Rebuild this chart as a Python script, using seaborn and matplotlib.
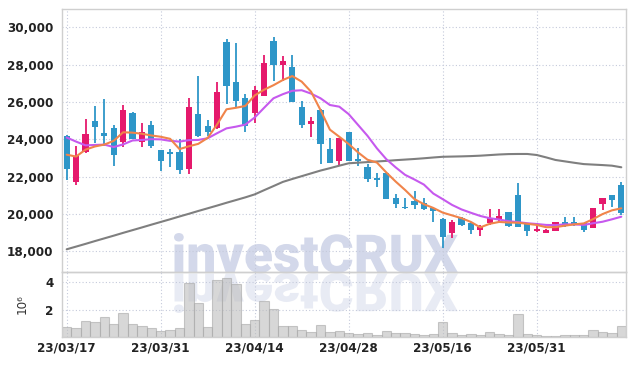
import numpy as np
import pandas as pd
import matplotlib
matplotlib.use("Agg")
import matplotlib.pyplot as plt
import seaborn as sns
from matplotlib.textpath import TextPath
from matplotlib.patches import PathPatch
from matplotlib.font_manager import FontProperties
from matplotlib.transforms import Affine2D, IdentityTransform

# ---------------- data ----------------
opens = [24180, 21740, 23300, 24980, 24320, 24620, 23840, 25420, 23850, 24760,
         23430, 23300, 23330, 22430, 25380, 24710, 24600, 29210, 27070, 26230,
         25390, 26340, 29270, 28000, 27890, 25730, 24840, 25570, 23480, 22860,
         24390, 22950, 22540, 21920, 22190, 20860, 20400, 20710, 20580, 20350,
         19740, 18970, 19790, 19540, 19150, 19510, 19720, 20110, 21020, 19510,
         19100, 19010, 19110, 19580, 19580, 19510, 19280, 20530, 21020, 21560]
highs = [24250, 23660, 25080, 25790, 26150, 24760, 25840, 25440, 24880, 24960,
         23450, 23500, 24030, 26240, 27370, 25020, 27060, 29370, 29150, 26410,
         26860, 28520, 29480, 28460, 28520, 26040, 25190, 25600, 24060, 24100,
         24420, 23550, 22690, 22190, 22200, 21080, 20850, 21230, 20870, 20380,
         19790, 19690, 19870, 19600, 19420, 20260, 20260, 20130, 21650, 19530,
         19500, 19200, 19580, 19870, 19870, 19540, 20330, 20880, 21040, 21740]
lows = [21830, 21580, 23260, 23800, 23650, 22550, 23580, 24000, 23610, 23560,
        22300, 22520, 22140, 22140, 24150, 24180, 24560, 25880, 25660, 24380,
        24880, 26300, 27150, 27150, 25990, 24630, 24120, 22670, 22720, 22580,
        22830, 22580, 21740, 21440, 20790, 20330, 20260, 20260, 20230, 19580,
        18170, 18710, 19360, 18920, 18830, 19420, 19600, 19300, 19290, 18830,
        19060, 18990, 19090, 19330, 19380, 19030, 19270, 20220, 20370, 19950]
closes = [22420, 23110, 24280, 24670, 24200, 23180, 25570, 24010, 24400, 23660,
          22850, 23240, 22380, 25720, 24190, 24410, 26550, 26880, 26070, 24740,
          26640, 28090, 27990, 28200, 26020, 24770, 25000, 23750, 22740, 24090,
          22860, 22850, 21870, 21800, 20810, 20560, 20330, 20490, 20290, 20160,
          18790, 19600, 19390, 19150, 19300, 19780, 19900, 19370, 19300, 19070,
          19200, 19150, 19560, 19450, 19460, 19150, 20310, 20850, 20750, 20080]
volume_millions = [0.76, 0.67, 1.18, 1.11, 1.50, 0.96, 1.78, 0.96, 0.84, 0.67,
                   0.44, 0.52, 0.67, 3.93, 2.52, 0.76, 4.17, 4.30, 3.87, 0.96,
                   1.21, 2.61, 2.07, 0.84, 0.84, 0.52, 0.34, 0.89, 0.39, 0.47,
                   0.30, 0.22, 0.27, 0.17, 0.44, 0.27, 0.30, 0.22, 0.15, 0.22,
                   1.13, 0.30, 0.17, 0.22, 0.15, 0.37, 0.22, 0.15, 1.65, 0.22,
                   0.15, 0.07, 0.07, 0.15, 0.15, 0.15, 0.52, 0.39, 0.30, 0.84]
ma_short = [23180, 23080, 23450, 23620, 23720, 23920, 24380, 24360, 24300, 24210,
            24140, 24030, 23480, 23630, 23760, 24080, 24800, 25610, 25690, 25790,
            26350, 26660, 26900, 27180, 27390, 27090, 26550, 25570, 24520, 24140,
            23750, 23300, 22910, 22760, 22230, 21740, 21290, 20800, 20530, 20330,
            20080, 19930, 19780, 19580, 19290, 19480, 19580, 19550, 19540, 19480,
            19420, 19300, 19300, 19380, 19450, 19500, 19730, 20000, 20200, 20310]
ma_mid = [24100, 23880, 23680, 23700, 23720, 23590, 23730, 23940, 23970, 24010,
          24000, 23920, 23880, 23960, 23970, 24060, 24330, 24590, 24680, 24790,
          25170, 25690, 26200, 26420, 26600, 26630, 26450, 26200, 25840, 25750,
          25350, 24770, 24190, 23520, 22940, 22500, 22100, 21850, 21580, 21100,
          20800, 20490, 20250, 20070, 19900, 19780, 19710, 19620, 19570, 19510,
          19470, 19420, 19410, 19450, 19450, 19420, 19510, 19590, 19720, 19860]
ma_long = [18116, 18260, 18405, 18555, 18700, 18845, 18995, 19140, 19285, 19433,
           19578, 19722, 19872, 20017, 20167, 20311, 20456, 20606, 20750, 20895,
           21055, 21280, 21500, 21724, 21880, 22030, 22180, 22330, 22458, 22592,
           22720, 22752, 22784, 22816, 22848, 22886, 22918, 22950, 22988, 23030,
           23068, 23079, 23090, 23105, 23127, 23159, 23191, 23212, 23218, 23218,
           23164, 23036, 22897, 22822, 22747, 22677, 22650, 22624, 22592, 22506]
date_labels = ['23/03/17', '23/03/31', '23/04/14', '23/04/28', '23/05/16', '23/05/31']
label_index = [0, 10, 20, 30, 40, 50]
price_ticks = [18000, 20000, 22000, 24000, 26000, 28000, 30000]
volume_ticks = [2, 4]

# ---------------- style ----------------
sns.set_theme(style="white")
plt.rcParams['font.family'] = ['DejaVu Sans']
plt.rcParams['font.stretch'] = 'condensed'

UP = '#E5196C'
DOWN = '#2E96C8'
GRID = '#c5cadb'
SPINE = '#cfcfcf'
TICKFONT = dict(family='DejaVu Sans', stretch='condensed', weight='bold', size=9.5)

df = pd.DataFrame({'i': np.arange(len(closes)), 'o': opens, 'h': highs, 'l': lows,
                   'c': closes, 'v': volume_millions,
                   'ma5': ma_short, 'ma20': ma_mid, 'ma120': ma_long})

fig = plt.figure(figsize=(6.35, 3.66), dpi=100)
fig.patch.set_facecolor('white')
ax = fig.add_axes([62/635, 1-272/366, (626-62)/635, (272-9.3)/366])
axv = fig.add_axes([62/635, 1-337/366, (626-62)/635, (337-272)/366], sharex=ax)
for a in (ax, axv):
    a.set_facecolor('none')
    for s in a.spines.values():
        s.set_color(SPINE)
        s.set_linewidth(1.0)
    a.grid(True, color=GRID, linestyle=(0, (1, 2)), linewidth=0.8)
    a.set_axisbelow(True)
    a.tick_params(length=0, labelcolor='#222222', pad=6)

# watermark (behind axes)
fp = FontProperties(family='Roboto', weight='heavy')
tp = TextPath((0, 0), 'investCRUX', size=100, prop=fp)
ext = tp.get_extents()
x0, x1, y_base = 174, 458, 272.5
sx = (x1 - x0) / ext.width
sy = 40 / ext.height
H = 366
tr = Affine2D().translate(-ext.x0, 0).scale(sx, sy).translate(x0, H - y_base)
wm = PathPatch(tr.transform_path(tp), facecolor='#d3d8ea', edgecolor='none',
               transform=IdentityTransform(), zorder=-5)
fig.add_artist(wm)
tr2 = Affine2D().translate(-ext.x0, 0).scale(sx, -sy).translate(x0, H - y_base - 1)
wm2 = PathPatch(tr2.transform_path(tp), facecolor='#d3d8ea', edgecolor='none', alpha=0.5,
                transform=IdentityTransform(), zorder=-5)
fig.add_artist(wm2)

# candles
up = df['c'] >= df['o']
colors = np.where(up, UP, DOWN)
ax.vlines(df['i'], df['l'], df['h'], colors=colors, linewidth=1.3, zorder=3)
ax.bar(df['i'], (df['c'] - df['o']).abs().clip(lower=40), bottom=df[['o', 'c']].min(axis=1),
       width=0.66, color=colors, edgecolor='none', zorder=4)

sns.lineplot(data=df, x='i', y='ma120', ax=ax, color='#7f7f7f', linewidth=1.5, zorder=5)
sns.lineplot(data=df, x='i', y='ma20', ax=ax, color='#c659ee', linewidth=1.5, zorder=5)
sns.lineplot(data=df, x='i', y='ma5', ax=ax, color='#f0844a', linewidth=1.5, zorder=6)

ax.set_ylim(16900, 30963)
ax.set_yticks(price_ticks)
ax.set_yticklabels([f'{t:,}' for t in price_ticks], fontdict=TICKFONT)
ax.set_xlabel('')
ax.set_ylabel('')
plt.setp(ax.get_xticklabels(), visible=False)

# volume
sns.barplot(data=df, x='i', y='v', ax=axv, native_scale=True, width=1.0,
            color='#bdbdbd', saturation=1, edgecolor='#a8a8a8', linewidth=0.8)
for p in axv.patches:
    p.set_alpha(0.6)
axv.set_ylim(0, 4.76)
axv.set_yticks(volume_ticks)
axv.set_yticklabels([str(t) for t in volume_ticks], fontdict=TICKFONT)
axv.set_xlim(-0.5, 59.5)
axv.set_xticks(label_index)
axv.set_xticklabels(date_labels, fontdict=TICKFONT)
axv.tick_params(axis='x', pad=3)
axv.set_xlabel('')
axv.set_ylabel('10⁶', fontsize=9.5, color='#333333', labelpad=12)

fig.savefig('out.png', dpi=100)
